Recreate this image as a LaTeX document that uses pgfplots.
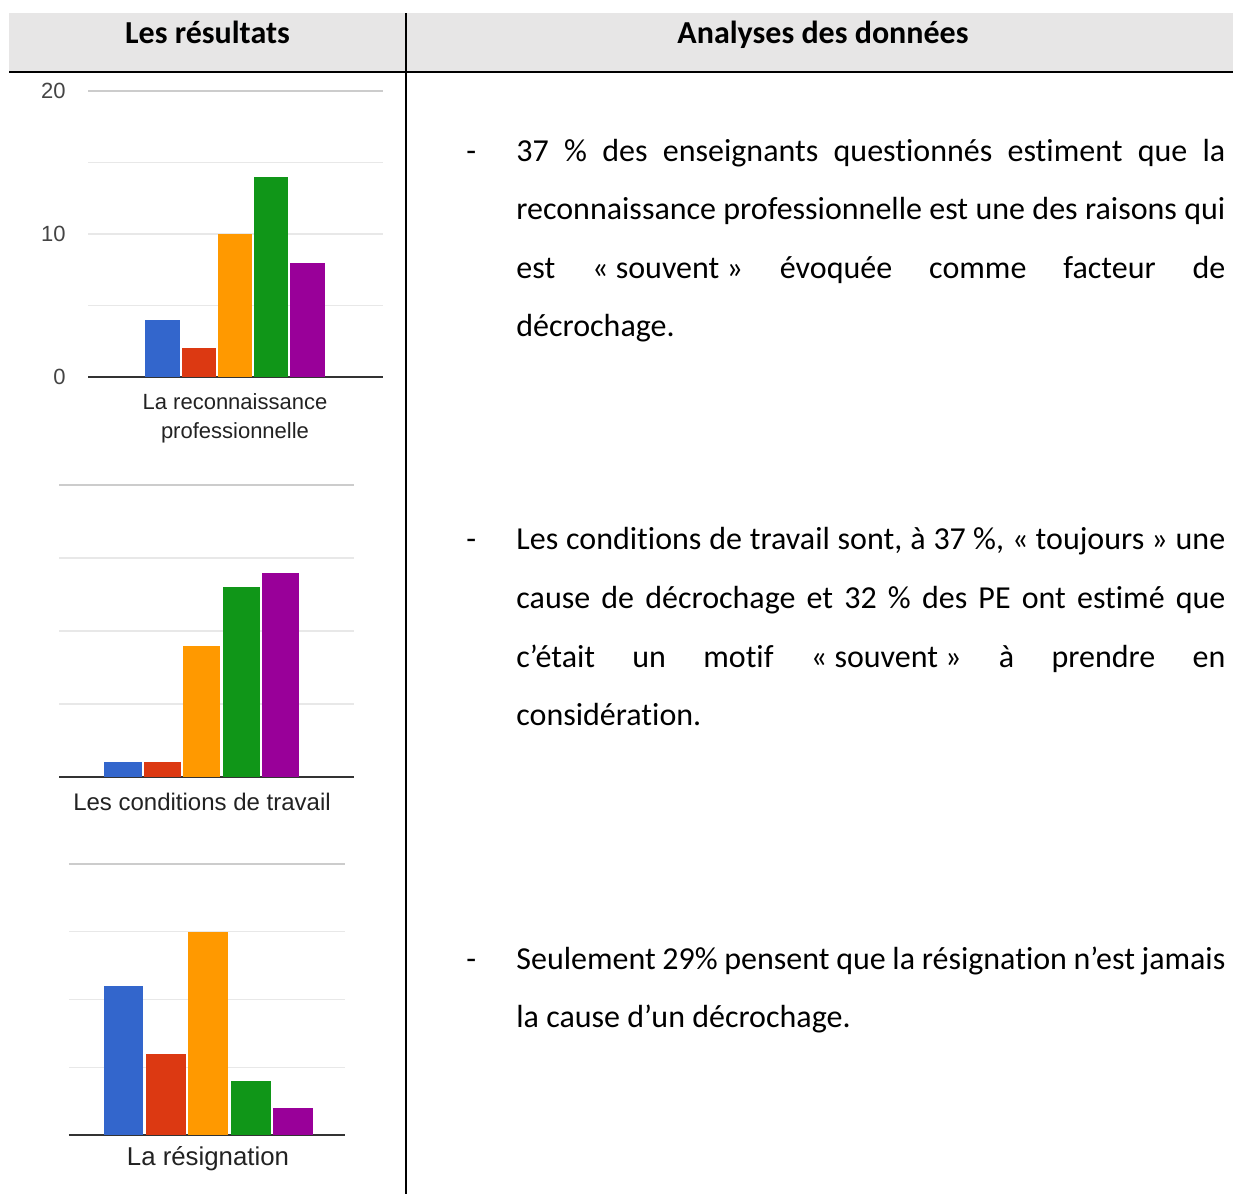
\documentclass[border=0pt]{standalone}
\usepackage{fontspec}
\setmainfont{Carlito}[Ligatures=NoCommon]
\newfontfamily\arial{Liberation Sans}
\usepackage{pgfplots}
\pgfplotsset{compat=1.18}
\definecolor{gblue}{HTML}{3366CC}
\definecolor{gred}{HTML}{DC3912}
\definecolor{gorange}{HTML}{FF9900}
\definecolor{ggreen}{HTML}{109618}
\definecolor{gpurple}{HTML}{990099}
\definecolor{hdr}{HTML}{E7E6E6}
\definecolor{gridc}{HTML}{E8E8E8}
\definecolor{topgrid}{HTML}{CCCCCC}
\definecolor{basec}{HTML}{333333}
\definecolor{tickc}{HTML}{444444}
\definecolor{labc}{HTML}{222222}
\newcommand{\nbs}{\kern\fontdimen2\font}
\newcommand{\jline}[1]{\makebox[354.5pt][s]{#1}}
\pgfplotsset{gbar/.style={
  scale only axis, anchor=south west,
  ymin=0, ymax=20, ytick={0,5,10,15},
  ymajorgrids, grid style={gridc, line width=0.7pt},
  extra y ticks={20}, extra y tick style={grid style={topgrid, line width=0.8pt}},
  axis x line=bottom, axis y line=left,
  x axis line style={basec, line width=1pt, -},
  y axis line style={draw=none},
  xtick=\empty, major tick length=0pt,
  yticklabels={}, extra y tick labels={},
  ybar, bar shift=0pt,
  every axis plot/.append style={draw=none},
}}
\begin{document}
\begin{tikzpicture}
\begin{scope}[x=0.5pt,y=-0.5pt]
\useasboundingbox (0,0) rectangle (1233,1194);
\fill[hdr] (9,13) rectangle (1233,71.5);
\draw[black, line width=1pt] (9,71.5) -- (1233,71.5);
\draw[black, line width=0.8pt] (406,13) -- (406,1194);
\begin{scope}[every node/.style={inner sep=0pt, font=\fontsize{16pt}{19pt}\selectfont}]
\node[anchor=base] at (207.5,43) {\bfseries Les résultats};
\node[anchor=base] at (823,43) {\bfseries Analyses des données};
% paragraph 1
\node[anchor=base west] at (466,161) {-};
\node[anchor=base west] at (516,161) {\jline{37 \% des enseignants questionnés estiment que la}};
\node[anchor=base west] at (516,219) {\jline{reconnaissance professionnelle est une des raisons qui}};
\node[anchor=base west] at (516,278) {\jline{est «\nbs souvent\nbs » évoquée comme facteur de}};
\node[anchor=base west] at (516,336) {décrochage.};
% paragraph 2
\node[anchor=base west] at (466,549) {-};
\node[anchor=base west] at (516,549) {\jline{Les conditions de travail sont, à 37\nbs \%, «\nbs toujours\nbs » une}};
\node[anchor=base west] at (516,608) {\jline{cause de décrochage et 32 \% des PE ont estimé que}};
\node[anchor=base west] at (516,667) {\jline{c’était un motif «\nbs souvent\nbs » à prendre en}};
\node[anchor=base west] at (516,725) {considération.};
% paragraph 3
\node[anchor=base west] at (466,969) {-};
\node[anchor=base west] at (516,969) {\jline{Seulement 29\% pensent que la résignation n’est jamais}};
\node[anchor=base west] at (516,1027) {la cause d’un décrochage.};
\end{scope}
\begin{scope}[every node/.style={inner sep=0pt, text=labc}]
\node[anchor=base, font=\arial\fontsize{11pt}{13pt}\selectfont] at (235,409) {La reconnaissance};
\node[anchor=base, font=\arial\fontsize{11pt}{13pt}\selectfont] at (235,438) {professionnelle};
\node[anchor=base, font=\arial\fontsize{12pt}{14pt}\selectfont] at (202,810) {Les conditions de travail};
\node[anchor=base, font=\arial\fontsize{12.9pt}{15pt}\selectfont] at (208,1165) {La résignation};
\end{scope}
\end{scope}

% Chart 1: La reconnaissance professionnelle
\begin{axis}[gbar, at={(44pt,-188.5pt)}, width=147.5pt, height=143pt,
  xmin=-2.055, xmax=6.083, bar width=0.95,
  ytick={0,5,10,15}, yticklabels={0,,10,},
  extra y tick labels={20},
  yticklabel style={anchor=east, inner sep=0pt, xshift=-11pt, text=tickc, font=\arial\fontsize{11pt}{13pt}\selectfont}]
\addplot[fill=gblue] coordinates {(0,4)};
\addplot[fill=gred] coordinates {(1,2)};
\addplot[fill=gorange] coordinates {(2,10)};
\addplot[fill=ggreen] coordinates {(3,14)};
\addplot[fill=gpurple] coordinates {(4,8)};
\end{axis}

% Chart 2: Les conditions de travail
\begin{axis}[gbar, at={(29.5pt,-388.5pt)}, width=147.5pt, height=146pt,
  xmin=-1.624, xmax=5.863, bar width=0.94]
\addplot[fill=gblue] coordinates {(0,1)};
\addplot[fill=gred] coordinates {(1,1)};
\addplot[fill=gorange] coordinates {(2,9)};
\addplot[fill=ggreen] coordinates {(3,13)};
\addplot[fill=gpurple] coordinates {(4,14)};
\end{axis}

% Chart 3: La résignation
\begin{axis}[gbar, at={(34.5pt,-567.5pt)}, width=138pt, height=135.5pt,
  xmin=-1.286, xmax=5.227, bar width=0.94]
\addplot[fill=gblue] coordinates {(0,11)};
\addplot[fill=gred] coordinates {(1,6)};
\addplot[fill=gorange] coordinates {(2,15)};
\addplot[fill=ggreen] coordinates {(3,4)};
\addplot[fill=gpurple] coordinates {(4,2)};
\end{axis}
\end{tikzpicture}
\end{document}
